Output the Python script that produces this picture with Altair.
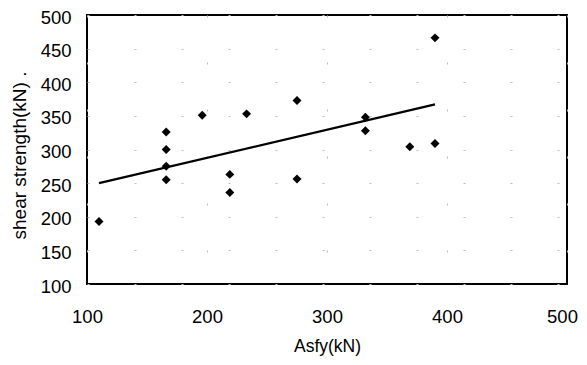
import altair as alt
import pandas as pd

asfy = [110, 166, 166, 166, 166, 196, 219, 219, 233, 275, 275, 332, 332, 369, 390, 390]
shear = [193, 326, 300, 275, 255, 351, 263, 236, 353, 373, 256, 348, 328, 304, 466, 309]

fit_x = [110, 390]
fit_y = [250, 367]

pts = pd.DataFrame({"Asfy": asfy, "shear": shear})
fit = pd.DataFrame({"Asfy": fit_x, "shear": fit_y})

xs = alt.Scale(domain=[100, 500], nice=False, zero=False)
ys = alt.Scale(domain=[100, 500], nice=False, zero=False)

xax = alt.Axis(values=[100, 200, 300, 400, 500], title="Asfy(kN)", labelPadding=23,
               titlePadding=12, titleFontSize=17.5,
               labelOffset=alt.expr("datum.value == 500 ? -5 : 0"))
yax = alt.Axis(values=[100, 150, 200, 250, 300, 350, 400, 450, 500],
               title="shear strength(kN) .", labelPadding=16, titlePadding=11,
               titleFontSize=19, titleY=140, labelOffset=2)

X = alt.X("Asfy:Q", scale=xs, axis=xax)
Y = alt.Y("shear:Q", scale=ys, axis=yax)

points = alt.Chart(pts).mark_point(shape="diamond", filled=True, color="black",
                                   size=80, opacity=1).encode(x=X, y=Y)

line = alt.Chart(fit).mark_line(color="black", strokeWidth=2.2).encode(x=X, y=Y)

chart = alt.layer(line, points).properties(
    width=480, height=269,
    autosize=alt.AutoSizeParams(type="none"),
    padding={"left": 79, "top": 7, "right": 12, "bottom": 73},
).configure_view(
    stroke="black", strokeWidth=2
).configure_axis(
    domain=False, ticks=False,
    labelFlush=False, labelOverlap=False,
    grid=True, gridColor="#bbbbbb", gridDash=[2, 45], gridWidth=1,
    labelFont="Liberation Sans", labelFontSize=18.5, labelColor="black",
    titleFont="Liberation Sans", titleFontWeight="normal",
    titleColor="black",
)

chart.save("out.html", embed_options={"renderer": "svg", "actions": False})
